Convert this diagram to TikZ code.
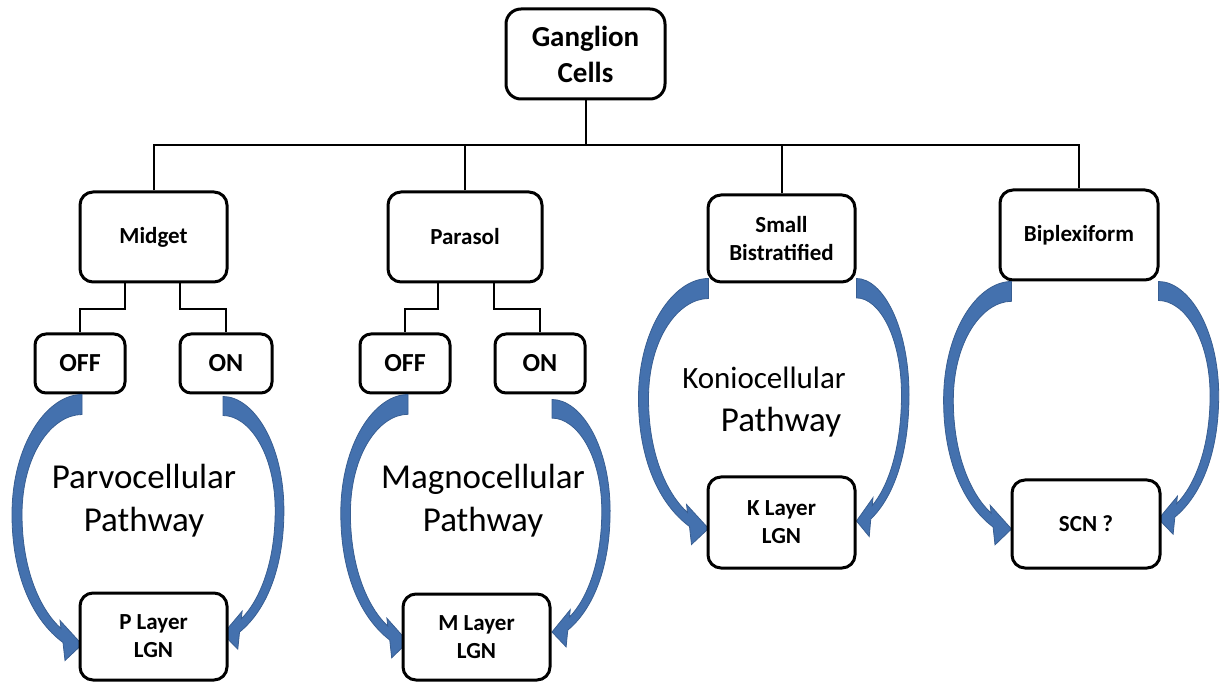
\documentclass[tikz,border=0pt]{standalone}
\usepackage{fontspec}
\setmainfont{Carlito}
\definecolor{arrowblue}{RGB}{68,113,174}
\definecolor{arrowedge}{RGB}{56,94,146}
\tikzset{
  box/.style={draw, line width=3pt, rounded corners=13pt, fill=white, align=center,
    font=\bfseries\fontsize{23}{28}\selectfont, inner sep=0pt},
  onoff/.style={box, rounded corners=11pt, minimum width=90pt, minimum height=59pt,
    font=\bfseries\fontsize{26}{30}\selectfont},
  conn/.style={line width=2pt},
  bluearrow/.style={fill=arrowblue, draw=arrowedge, line width=0.8pt},
  pathlabel/.style={font=\fontsize{35}{43}\selectfont, align=center, inner sep=0pt},
}
\newcommand\bendarrow[3]{%
  \filldraw[bluearrow, shift={(#1)}, xscale=#2, yscale=#3]
    (0,0) -- (0,20) .. controls (-30,20) and (-60,60) .. (-60,120)
    .. controls (-60,175) and (-42,215) .. (-21,234) -- (-22,226) -- (0,250)
    -- (-17,266) -- (-19,248) .. controls (-50,225) and (-70,180) .. (-70,120)
    .. controls (-70,50) and (-35,0) .. (0,0) -- cycle;}
\begin{document}
\begin{tikzpicture}[x=1pt, y=-1pt]
\useasboundingbox (0,0) rectangle (1227,684);
% top
\node[box, minimum width=159pt, minimum height=90pt, rounded corners=15pt,
  font=\bfseries\fontsize{29}{36}\selectfont] (gang) at (585.5,54) {Ganglion\\Cells};
% second row
\node[box, minimum width=147pt, minimum height=90pt] (midget) at (153.5,237) {Midget};
\node[box, minimum width=154pt, minimum height=90pt] (parasol) at (465,237) {Parasol};
\node[box, minimum width=147pt, minimum height=87pt] (sb) at (781.5,238.5) {Small\\Bistratified};
\node[box, minimum width=158pt, minimum height=90pt] (bip) at (1079,235) {Biplexiform};
% on / off
\node[onoff] (offM) at (80,363.5) {OFF};
\node[onoff, minimum width=92pt] (onM) at (226,363.5) {ON};
\node[onoff] (offP) at (405,363.5) {OFF};
\node[onoff] (onP) at (540,363.5) {ON};
% tree connectors
\coordinate (bar) at (0,145);
\draw[conn] (gang.south) -- (gang.south |- bar);
\draw[conn] (midget.north) |- (bip.north |- bar) -- (bip.north);
\draw[conn] (parasol.north) -- (parasol.north |- bar);
\draw[conn] (sb.north) -- (sb.north |- bar);
\draw[conn] ([xshift=-28.5pt]midget.south) -- ++(0,26) -| (offM.north);
\draw[conn] ([xshift=26.5pt]midget.south) -- ++(0,26) -| (onM.north);
\draw[conn] ([xshift=-27pt]parasol.south) -- ++(0,26) -| (offP.north);
\draw[conn] ([xshift=29pt]parasol.south) -- ++(0,26) -| (onP.north);
% arrows
\bendarrow{[xshift=2pt]offM.south}{1}{1}
\bendarrow{[xshift=-3pt,yshift=-2pt]onM.south}{-0.87}{0.95}
\bendarrow{[xshift=3pt]offP.south}{0.96}{0.99}
\bendarrow{[xshift=12pt,yshift=-5pt]onP.south}{-0.83}{0.93}
\bendarrow{[xshift=2pt,yshift=5pt]sb.south west}{1}{1}
\bendarrow{[yshift=5pt]sb.south east}{-0.75}{0.97}
\bendarrow{[xshift=13pt]bip.south west}{0.97}{0.99}
\bendarrow{[xshift=-1pt]bip.south east}{-0.86}{0.95}
% bottom boxes
\node[box, minimum width=147pt, minimum height=87pt] (pl) at (153.5,636.5) {P Layer\\LGN};
\node[box, minimum width=147pt, minimum height=86pt] (ml) at (476.5,637) {M Layer\\LGN};
\node[box, minimum width=147pt, minimum height=91pt] (kl) at (781.5,522.5) {K Layer\\LGN};
\node[box, minimum width=148pt, minimum height=88pt] (scn) at (1086,524) {SCN ?};
% pathway labels
\node[pathlabel] (parvo) at (144,501) {Parvocellular\\Pathway};
\node[pathlabel] (magno) at (483,501) {Magnocellular\\Pathway};
\node[pathlabel] (konio) at (764,402) {{\fontsize{31}{41}\selectfont Koniocellular}\\\hspace*{34pt}Pathway};
\end{tikzpicture}
\end{document}
